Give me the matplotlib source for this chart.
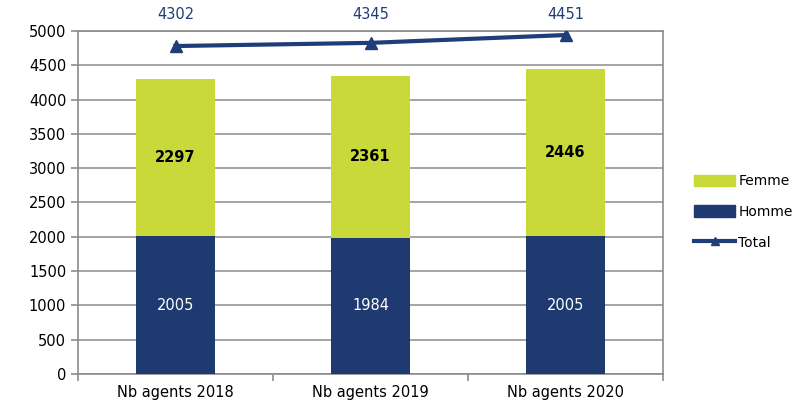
import numpy as np
import matplotlib.pyplot as plt
from matplotlib.patches import Patch
from matplotlib.lines import Line2D

categories = ['Nb agents 2018', 'Nb agents 2019', 'Nb agents 2020']
hommes = [2005, 1984, 2005]
femmes = [2297, 2361, 2446]
totals = [4302, 4345, 4451]

c_femme = '#C9D939'
c_homme = '#1F3A70'
c_line = '#1F3D78'
c_grid = '#8C8C8C'

fig = plt.figure(figsize=(7.98, 4.03), dpi=100)
ax = fig.add_axes([78 / 798, 29 / 403, 585 / 798, 343 / 403])

x = np.arange(len(categories))
w = 0.41
ax.bar(x, hommes, w, color=c_homme, zorder=3)
ax.bar(x, femmes, w, bottom=hommes, color=c_femme, zorder=3)

for i in range(len(x)):
    ax.text(x[i], hommes[i] / 2, str(hommes[i]), ha='center', va='center',
            color='white', fontsize=10.5, zorder=4)
    ax.text(x[i], hommes[i] + femmes[i] / 2, str(femmes[i]), ha='center',
            va='center', color='black', fontsize=10.5, fontweight='bold', zorder=4)

ax.set_xlim(-0.5, 2.5)
ax.set_ylim(0, 5000)
ax.set_yticks(np.arange(0, 5001, 500))
ax.set_xticks(x)
ax.set_xticklabels(categories, fontsize=10.5)
ax.set_xticks([-0.5, 0.5, 1.5, 2.5], minor=True)
ax.tick_params(axis='x', which='major', length=0, pad=8)
ax.tick_params(axis='x', which='minor', length=5, color=c_grid, width=1.2)
ax.tick_params(axis='y', length=5, color=c_grid, width=1.2, labelsize=10.5)
ax.grid(axis='y', color=c_grid, linewidth=1.1, zorder=0)
for s in ax.spines.values():
    s.set_color(c_grid)
    s.set_linewidth(1.2)

# total on a hidden secondary axis
ax2 = ax.twinx()
ax2.set_ylim(-150, 4506)
ax2.plot(x, totals, color=c_line, linewidth=3, marker='^', markersize=9, zorder=5)
ax2.set_yticks([])
for s in ax2.spines.values():
    s.set_visible(False)
for i in range(len(x)):
    ax.text(x[i], 5000 + 130, str(totals[i]), ha='center', va='bottom',
            color=c_line, fontsize=10.5, clip_on=False)

handles = [Patch(color=c_femme), Patch(color=c_homme),
           Line2D([], [], color=c_line, linewidth=3, marker='^', markersize=6)]
fig.legend(handles, ['Femme', 'Homme', 'Total'], loc='center left',
           bbox_to_anchor=(684 / 798, 1 - 212 / 403), frameon=False,
           fontsize=10, handlelength=3.0, handleheight=0.9,
           labelspacing=1.2, handletextpad=0.2, borderaxespad=0.3)

fig.savefig('out.png', dpi=100)
